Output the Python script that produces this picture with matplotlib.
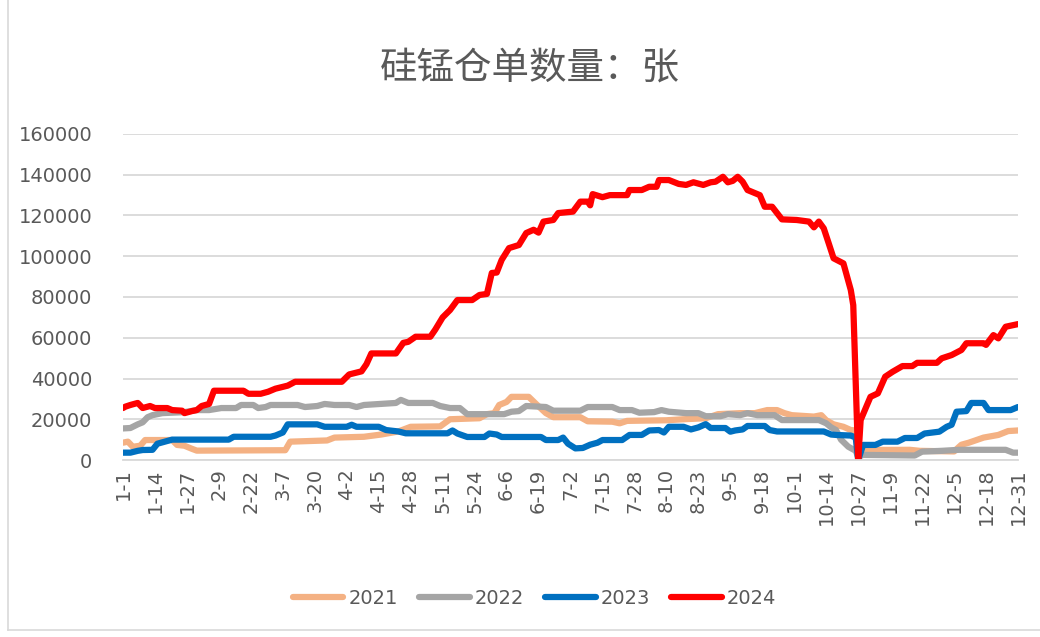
import matplotlib
matplotlib.use('Agg')
import matplotlib.pyplot as plt
from matplotlib.lines import Line2D

plt.rcParams['font.family'] = ['DejaVu Sans', 'Noto Sans CJK SC']

# day index (0 = 1-1) and warrant counts
days_2021 = [0, 2, 4, 7, 9, 20, 22, 25, 28, 30, 66, 68, 83, 86, 98, 105, 112, 117, 129, 133, 145, 148,
             151, 153, 156, 158, 165, 168, 172, 175, 186, 189, 199, 202, 205, 221, 228, 237, 242, 251,
             257, 262, 266, 269, 272, 281, 284, 286, 289, 293, 296, 298, 299, 300, 320, 324, 338, 341,
             344, 350, 356, 360, 364]
vals_2021 = [8500, 9000, 6500, 7000, 9800, 9800, 7400, 7000, 5500, 4600, 4800, 9000, 9600, 11000, 11400,
             12500, 14000, 16300, 16500, 20000, 20500, 22500, 23000, 27000, 28500, 31000, 31000, 27500,
             23000, 21000, 21000, 19000, 18800, 18000, 19200, 19500, 20000, 20500, 22500, 23000, 23000,
             24500, 24500, 23000, 22000, 21300, 22000, 19500, 17500, 16300, 14700, 14500, 0, 4900, 5000,
             4500, 4200, 7500, 8500, 11000, 12300, 14200, 14500]

days_2022 = [0, 3, 6, 8, 10, 12, 16, 25, 30, 35, 40, 46, 48, 53, 55, 58, 60, 71, 74, 79, 82, 86, 92, 95,
             98, 111, 113, 116, 126, 129, 133, 137, 140, 155, 158, 161, 164, 172, 175, 186, 189, 199, 202,
             207, 210, 216, 219, 222, 229, 234, 237, 243, 246, 251, 254, 258, 265, 268, 283, 286, 288, 290,
             292, 295, 298, 299, 301, 322, 325, 333, 340, 359, 362, 364]
vals_2022 = [15500, 15700, 17500, 18500, 21000, 22000, 23000, 23500, 24500, 24500, 25500, 25500, 27000,
             27000, 25500, 26000, 27000, 27000, 26000, 26500, 27500, 27000, 27000, 26000, 27000, 28000,
             29500, 28000, 28000, 26500, 25500, 25500, 22500, 22500, 23700, 24000, 26500, 26000, 24200,
             24200, 26000, 26000, 24500, 24500, 23200, 23500, 24500, 23700, 23000, 23000, 21500, 21500,
             22500, 22000, 23000, 22000, 22000, 19600, 19600, 18000, 16000, 14700, 10000, 6500, 4500, 1500,
             2500, 2200, 4100, 4500, 5000, 5000, 3600, 3600]

days_2023 = [0, 3, 6, 8, 12, 14, 17, 20, 43, 45, 60, 62, 65, 67, 79, 82, 91, 93, 95, 104, 107, 112, 115,
             132, 134, 136, 140, 147, 149, 152, 154, 170, 172, 177, 179, 181, 184, 187, 190, 193, 195, 203,
             206, 211, 214, 218, 220, 222, 228, 231, 234, 237, 239, 245, 247, 249, 252, 254, 261, 263, 266,
             285, 288, 290, 296, 298, 299, 301, 306, 309, 315, 318, 323, 326, 332, 335, 337, 339, 343, 345,
             350, 352, 361, 364]
vals_2023 = [3600, 3600, 4500, 4900, 5000, 8000, 9000, 10000, 10000, 11400, 11400, 12000, 13500, 17500,
             17500, 16300, 16300, 17300, 16300, 16300, 14700, 14000, 13100, 13100, 14500, 13000, 11300,
             11300, 13000, 12500, 11300, 11300, 9800, 9800, 11000, 8000, 5700, 5900, 7500, 8500, 9800, 9800,
             12300, 12300, 14500, 14700, 13500, 16300, 16300, 15000, 16000, 17600, 15700, 15700, 13900,
             14500, 15000, 16700, 16700, 14700, 14000, 14000, 12500, 12300, 12000, 11000, 0, 7400, 7400,
             9000, 9000, 10800, 10800, 13000, 13900, 16300, 17300, 23700, 24000, 28000, 28000, 24500, 24500,
             26000]

days_2024 = [0, 1, 3, 6, 8, 11, 13, 18, 20, 24, 25, 28, 30, 32, 35, 37, 49, 51, 56, 59, 62, 67, 70, 89,
             92, 97, 99, 101, 111, 114, 116, 119, 125, 127, 130, 133, 136, 142, 145, 148, 150, 152, 154,
             157, 161, 164, 167, 169, 171, 175, 177, 183, 186, 189, 190, 191, 195, 198, 205, 206, 211, 214,
             217, 218, 222, 226, 229, 232, 236, 239, 241, 244, 246, 248, 250, 252, 254, 259, 261, 264, 268,
             274, 279, 281, 283, 285, 287, 289, 293, 296, 297, 299, 300, 304, 307, 310, 313, 317, 321, 323,
             331, 333, 337, 341, 343, 350, 351, 354, 356, 359, 364]
vals_2024 = [25500, 26200, 27000, 28000, 25500, 26500, 25500, 25500, 24500, 24200, 23000, 24000, 24500,
             26500, 27500, 34000, 34000, 32500, 32500, 33500, 35000, 36500, 38400, 38400, 42000, 43500,
             47000, 52300, 52300, 57500, 58000, 60500, 60500, 64000, 70000, 73600, 78500, 78500, 81000,
             81500, 91800, 92000, 98200, 104000, 105500, 111400, 113000, 111600, 117000, 117800, 121200,
             121900, 126800, 126800, 125000, 130500, 129000, 130000, 130000, 132500, 132500, 134100, 134100,
             137400, 137400, 135500, 135000, 136300, 135000, 136300, 136600, 139000, 136300, 137000, 139000,
             136600, 132500, 130000, 124300, 124300, 118100, 117800, 117000, 114200, 117000, 113700, 106400,
             99000, 96500, 83400, 76000, 0, 19600, 31000, 32700, 40900, 43300, 46100, 46100, 47700, 47700,
             49900, 51500, 54000, 57300, 57300, 56500, 61300, 59700, 65400, 66700]

tick_labels = ['1-1', '1-14', '1-27', '2-9', '2-22', '3-7', '3-20', '4-2', '4-15', '4-28', '5-11', '5-24',
               '6-6', '6-19', '7-2', '7-15', '7-28', '8-10', '8-23', '9-5', '9-18', '10-1', '10-14',
               '10-27', '11-9', '11-22', '12-5', '12-18', '12-31']

fig = plt.figure(figsize=(10.4, 6.37), dpi=100)
ax = fig.add_axes([123 / 1040, 1 - 460 / 637, (1018 - 123) / 1040, 326 / 637])

lw = 4.5
ax.plot(days_2021, vals_2021, color='#F4B183', linewidth=lw, label='2021', solid_capstyle='round')
ax.plot(days_2022, vals_2022, color='#A5A5A5', linewidth=lw, label='2022', solid_capstyle='round')
ax.plot(days_2023, vals_2023, color='#0070C0', linewidth=lw, label='2023', solid_capstyle='round')
ax.plot(days_2024, vals_2024, color='#FF0000', linewidth=lw, label='2024', solid_capstyle='round')

ax.set_xlim(0, 364)
ax.set_ylim(0, 160000)
ax.set_yticks(range(0, 160001, 20000))
ax.set_xticks(range(0, 365, 13))
ax.set_xticklabels(tick_labels, rotation=90)
ax.tick_params(axis='both', length=0, labelsize=14, labelcolor='#595959')
ax.tick_params(axis='y', pad=22)
ax.tick_params(axis='x', pad=6)
ax.grid(axis='y', color='#D9D9D9', linewidth=1.3)
ax.set_axisbelow(True)
for s in ['top', 'right', 'left']:
    ax.spines[s].set_visible(False)
ax.spines['bottom'].set_color('#D9D9D9')
ax.spines['bottom'].set_linewidth(1.3)

fig.text(0.509, 1 - 68 / 637, '硅锰仓单数量：张', ha='center', va='center', fontsize=27,
         color='#595959', family=['Noto Sans CJK SC', 'DejaVu Sans'])

fig.legend(loc='center', bbox_to_anchor=(0.514, 1 - 598 / 637), ncol=4, frameon=False,
           fontsize=14, labelcolor='#595959', handlelength=2.6, handletextpad=0.25,
           columnspacing=1.1)

# outer chart frame
fig.add_artist(Line2D([8 / 1040, 8 / 1040], [1 - 630 / 637, 1.0], color='#D9D9D9', linewidth=1.2))
fig.add_artist(Line2D([8 / 1040, 1.0], [1 - 630 / 637, 1 - 630 / 637], color='#D9D9D9', linewidth=1.2))

fig.savefig('out.png', dpi=100)
